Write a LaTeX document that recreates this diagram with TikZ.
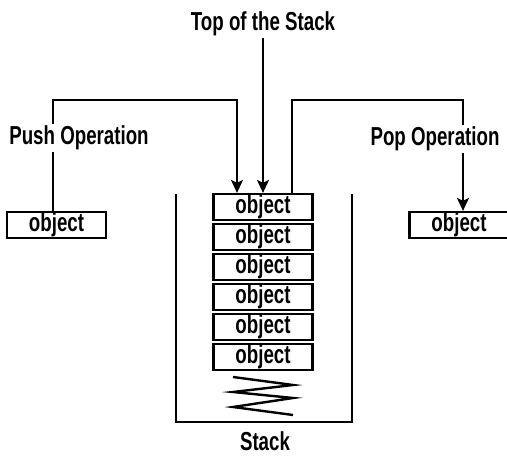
\documentclass[tikz,border=0pt]{standalone}
\usepackage{fontspec}
\setmainfont{Liberation Sans}[FakeStretch=0.72]
\usetikzlibrary{arrows.meta}
\begin{document}
\begin{tikzpicture}[x=1pt,y=-1pt,
  every node/.style={font=\fontsize{26}{30}\selectfont\bfseries, inner sep=1pt},
  objbox/.style={draw, line width=2.2pt, minimum width=99pt, minimum height=26pt, inner sep=0pt, fill=white},
  lbl/.style={fill=white, inner sep=2pt},
  conn/.style={line width=2.2pt},
  arr/.style={conn, -{Stealth[length=13pt,width=12pt,inset=3pt]}},
  wall/.style={line width=2.2pt}]
\useasboundingbox (0,0) rectangle (507,456);
% stack container
\draw[wall] (176,194) -- (176,422) -- (352,422) -- (352,194);
% stack objects
\foreach \i in {1,...,6} {
  \node[objbox] (s\i) at (263,{207+30*(\i-1)}) {object};
}
% spring
\draw[line width=2.4pt, line join=miter] (233,377) -- (293,385) -- (233,392) -- (293,398) -- (233,407) -- (293,415);
% side objects
\node[objbox] (pushobj) at (56.5,225) {object};
\node[objbox] (popobj) at (459,225) {object};
% labels
\node (toplabel) at (263,24) {Top of the Stack};
\node[inner sep=0pt] (stacklabel) at (265,441) {Stack};
\coordinate (pushA) at (53,100);
\coordinate (pushB) at (237,100);
\coordinate (popA) at (292,100);
\coordinate (popB) at (463,100);
% connectors
\draw[arr] ([xshift=-3.5pt]pushobj.north) -- (pushA) -- (pushB) -- ([xshift=-26pt]s1.north);
\draw[arr] (263,38) -- (s1.north);
\draw[arr] ([xshift=29pt]s1.north) -- (popA) -- (popB) -- ([xshift=4pt]popobj.north);
\node[lbl] (pushlabel) at (79,138) {Push Operation};
\node[lbl] (poplabel) at (435,139) {Pop Operation};
\end{tikzpicture}
\end{document}
